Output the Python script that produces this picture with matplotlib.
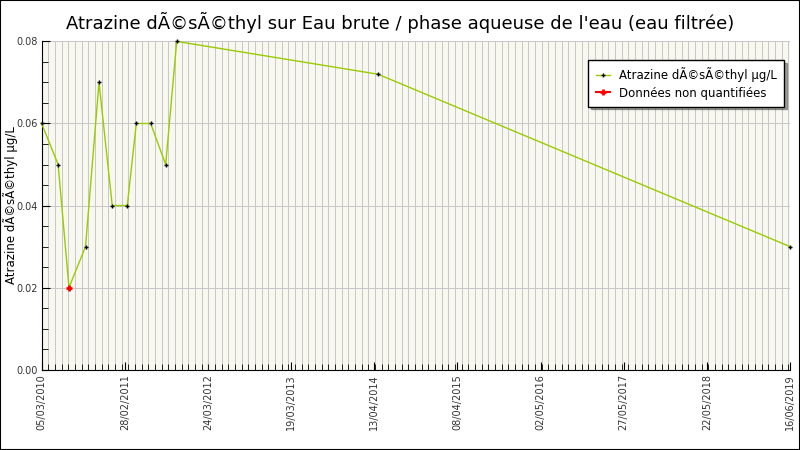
import numpy as np
import pandas as pd
import matplotlib
matplotlib.use('Agg')
import matplotlib.pyplot as plt
import matplotlib.dates as mdates
from matplotlib.patches import Rectangle

dates = pd.to_datetime(['2010-03-05', '2010-05-19', '2010-07-07', '2010-09-20',
                        '2010-11-20', '2011-01-19', '2011-03-28', '2011-05-08',
                        '2011-07-12', '2011-09-18', '2011-11-07', '2014-05-07',
                        '2019-06-16'])
valeurs = [0.06, 0.05, 0.02, 0.03, 0.07, 0.04, 0.04, 0.06, 0.06, 0.05, 0.08, 0.072, 0.03]
non_quantif = [2]  # index des données non quantifiées

tick_labels = ['05/03/2010', '28/02/2011', '24/03/2012', '19/03/2013', '13/04/2014',
               '08/04/2015', '02/05/2016', '27/05/2017', '22/05/2018', '16/06/2019']

titre = "Atrazine dÃ©sÃ©thyl sur Eau brute / phase aqueuse de l'eau (eau filtrée)"
ylab = "Atrazine dÃ©sÃ©thyl µg/L"

fig = plt.figure(figsize=(8, 4.5), dpi=100)
fig.patch.set_facecolor('white')
fig.patches.append(Rectangle((0, 0), 1, 1, transform=fig.transFigure, fill=False,
                             edgecolor='black', linewidth=1.5))
ax = fig.add_axes([0.052, 0.1784, 0.9355, 0.7296])
ax.set_facecolor('#f8f8f0')

x0 = mdates.date2num(dates[0])
x1 = mdates.date2num(dates[-1])
ax.set_xlim(x0, x1)
ax.set_ylim(0, 0.08)

# graduations (étiquettes régulièrement espacées)
ax.set_xticks(np.linspace(x0, x1, len(tick_labels)))
ax.set_xticklabels(tick_labels, rotation=90, fontsize=7, color='#333333')
ax.set_xticks(np.arange(x0, x1, 30.2), minor=True)
ax.set_yticks(np.arange(0, 0.081, 0.02))
ax.set_yticklabels(['%.2f' % v for v in np.arange(0, 0.081, 0.02)], fontsize=7, color='#333333')
ax.set_yticks(np.arange(0, 0.081, 0.005), minor=True)
ax.tick_params(axis='both', which='both', direction='in')
ax.tick_params(axis='both', which='major', length=6, pad=3)
ax.tick_params(axis='both', which='minor', length=4)

ax.grid(True, axis='x', which='minor', color='#c8c8c8', linewidth=0.72, antialiased=False)
ax.grid(True, axis='y', which='major', color='#c8c8c8', linewidth=0.72, antialiased=False)
ax.set_axisbelow(True)

for s in ['top', 'right']:
    ax.spines[s].set_visible(False)

ax.plot(dates, valeurs, color='#99cc00', linewidth=1, marker='+', markersize=3,
        markeredgecolor='black', markeredgewidth=1, label=ylab, clip_on=False, zorder=3)
ax.plot(dates[non_quantif], [valeurs[i] for i in non_quantif], linestyle='-', color='red',
        marker='+', markersize=4, markeredgewidth=2, label='Données non quantifiées',
        clip_on=False, zorder=4)

fig.text(0.013, 0.545, ylab, rotation=90, ha='center', va='center', fontsize=8.5)
fig.text(0.5, 0.95, titre, ha='center', va='center', fontsize=13)

leg = ax.legend(loc='upper right', bbox_to_anchor=(1.0, 0.962), fontsize=8.5,
                frameon=True, fancybox=False, shadow=True, handlelength=1.2,
                borderpad=0.6, labelspacing=0.4)
leg.get_frame().set_edgecolor('black')
leg.get_frame().set_linewidth(1)

fig.savefig('out.png', dpi=100)
